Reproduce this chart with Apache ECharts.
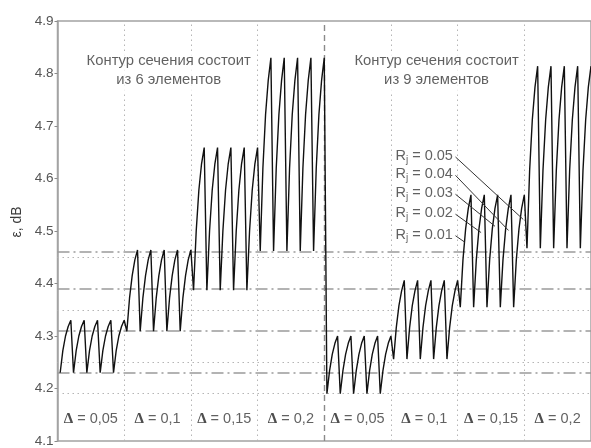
<!DOCTYPE html>
<html>
<head>
<meta charset="utf-8">
<script src="https://cdn.jsdelivr.net/npm/echarts@6/dist/echarts.min.js"></script>
<style>
  html, body { margin: 0; padding: 0; background: #fff; }
  #chart { width: 591px; height: 448px; }
</style>
</head>
<body>
<div id="chart"></div>
<script>
// one tooth of each group, read at its 5 samples (min ... max)
const teeth6 = [
  [4.230, 4.272, 4.300, 4.318, 4.330],   // Δ = 0,05
  [4.309, 4.372, 4.415, 4.445, 4.464],   // Δ = 0,1
  [4.387, 4.500, 4.578, 4.628, 4.659],   // Δ = 0,15
  [4.462, 4.620, 4.722, 4.787, 4.830]    // Δ = 0,2
]
const teeth9 = [
  [4.190, 4.234, 4.265, 4.286, 4.300],
  [4.256, 4.316, 4.358, 4.386, 4.406],
  [4.355, 4.445, 4.504, 4.543, 4.569],
  [4.467, 4.616, 4.712, 4.774, 4.814]
]
const teethPerGroup = 5
const deltaNames = ['0,05', '0,1', '0,15', '0,2']

// reference levels
const dashDotLevels = [4.231, 4.309, 4.386, 4.4625]
const dottedLevels = [4.187, 4.2525, 4.354, 4.451]

// Rj annotations (label values and where the leaders point)
const rjNames = ['0.05', '0.04', '0.03', '0.02', '0.01']
const rjLabelY = [4.643, 4.608, 4.572, 4.534, 4.493]
const rjTargetX = [174.6, 169.1, 164.0, 158.8, 152.6]
const rjTargetY = [4.522, 4.501, 4.509, 4.497, 4.479]

const groups = teeth6.concat(teeth9)
const samplesPerTooth = teeth6[0].length
const groupWidth = teethPerGroup * samplesPerTooth

// sawtooth curve
const curve = []
groups.forEach((tooth, g) => {
  for (let k = 0; k < teethPerGroup; k++) {
    tooth.forEach((v, s) => {
      curve.push([g * groupWidth + k * samplesPerTooth + s + 1, v])
    })
  }
})

const xMax = groups.length * groupWidth
const textColor = '#3a3a3a'
const font = 'Liberation Sans, Arial, sans-serif'

// vertical separators
const vLines = []
for (let g = 1; g < groups.length; g++) {
  const half = g === teeth6.length
  vLines.push({
    xAxis: g * groupWidth,
    lineStyle: half
      ? { color: '#8a8a8a', width: 1.4, type: [6, 4] }
      : { color: '#b5b5b5', width: 1, type: [1.5, 3.5] }
  })
}
const hLines = dashDotLevels.map(v => ({
  yAxis: v,
  lineStyle: { color: '#9a9a9a', width: 1.5, type: [12, 4, 2, 4] }
})).concat(dottedLevels.map(v => ({
  yAxis: v,
  lineStyle: { color: '#b5b5b5', width: 1, type: [1.5, 3.5] }
})))

// labels
const deltaData = groups.map((t, g) => [
  g * groupWidth + groupWidth / 2, 4.141, deltaNames[g % deltaNames.length]
])
const titleData = [
  [41.7, 4.805, 'Контур сечения состоит\nиз 6 элементов'],
  [142.1, 4.805, 'Контур сечения состоит\nиз 9 элементов']
]
const rjData = rjNames.map((n, i) => [148.8, rjLabelY[i], n])
const leaderData = rjNames.map((n, i) => ({
  coords: [[149.2, rjLabelY[i] - 0.002], [rjTargetX[i], rjTargetY[i]]]
}))

const chart = echarts.init(document.getElementById('chart'))
chart.setOption({
  animation: false,
  textStyle: { fontFamily: font },
  grid: {
    left: 57.5, right: -5, top: 21, bottom: 1,
    show: true, borderColor: '#a3a3a3', borderWidth: 1.5
  },
  xAxis: {
    type: 'value', min: 0, max: xMax,
    axisLine: { show: false }, axisTick: { show: false },
    axisLabel: { show: false }, splitLine: { show: false }
  },
  yAxis: {
    type: 'value', min: 4.1, max: 4.9, interval: 0.1,
    name: 'ε, dB', nameLocation: 'middle', nameGap: 24, nameRotate: 90,
    nameTextStyle: { color: textColor, fontSize: 14, fontFamily: font, padding: [0, 0, 0, 18] },
    axisLine: { show: true, lineStyle: { color: '#a3a3a3', width: 1.5 } },
    axisTick: { show: true, length: 3, lineStyle: { color: '#8a8a8a' } },
    axisLabel: {
      color: '#555', fontSize: 13.5, margin: 4, fontFamily: font,
      formatter: v => v.toFixed(1)
    },
    splitLine: { show: false }
  },
  series: [
    {
      type: 'line', data: [], silent: true, z: 1,
      markLine: {
        silent: true, symbol: 'none', label: { show: false },
        animation: false,
        data: hLines.concat(vLines)
      }
    },
    {
      type: 'line', data: curve, showSymbol: false, silent: true, z: 5,
      lineStyle: { color: '#111', width: 1.4 }
    },
    {
      type: 'lines', coordinateSystem: 'cartesian2d', silent: true, z: 6,
      data: leaderData,
      lineStyle: { color: '#333', width: 1, opacity: 1 }
    },
    {
      type: 'scatter', data: titleData, symbolSize: 1, silent: true, z: 7,
      itemStyle: { color: 'transparent' },
      label: {
        show: true, position: 'inside', formatter: p => p.data[2],
        color: textColor, fontSize: 14.8, lineHeight: 19, align: 'center',
        backgroundColor: '#fff', padding: [1, 3]
      }
    },
    {
      type: 'scatter', data: rjData, symbolSize: 1, silent: true, z: 7,
      itemStyle: { color: 'transparent' },
      label: {
        show: true, position: 'left', distance: 0,
        formatter: p => '{r|R}{s|j}{r| = ' + p.data[2] + '}',
        backgroundColor: '#fff', padding: [0, 1],
        rich: {
          r: { color: textColor, fontSize: 14.5, lineHeight: 18, verticalAlign: 'middle' },
          s: { color: textColor, fontSize: 10, lineHeight: 18, verticalAlign: 'bottom' }
        }
      }
    },
    {
      type: 'scatter', data: deltaData, symbolSize: 1, silent: true, z: 7,
      itemStyle: { color: 'transparent' },
      label: {
        show: true, position: 'inside',
        formatter: p => '{d|Δ}{t| = ' + p.data[2] + '}',
        rich: {
          d: { color: '#222', fontSize: 15, fontWeight: 'bold', fontFamily: 'Liberation Serif, serif' },
          t: { color: textColor, fontSize: 14.5 }
        }
      }
    }
  ]
})
</script>
</body>
</html>
